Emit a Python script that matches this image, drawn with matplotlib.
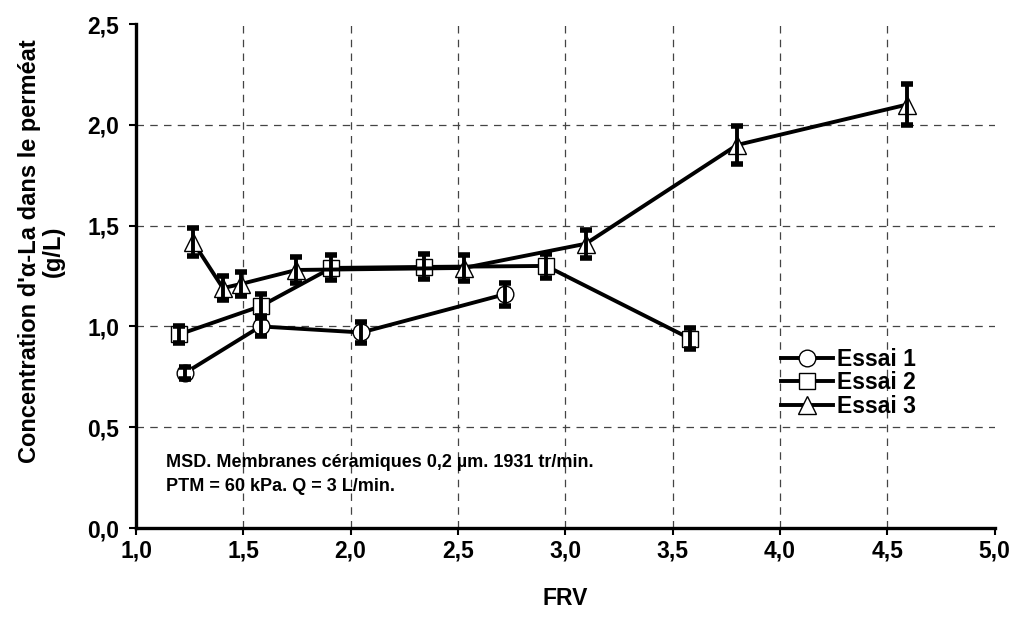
import matplotlib
matplotlib.use("Agg")
import matplotlib.pyplot as plt
from matplotlib.ticker import FuncFormatter

plt.rcParams['font.family'] = ['Liberation Sans', 'DejaVu Sans']
plt.rcParams['font.weight'] = 'bold'

# Essai 1
frv_1 = [1.23, 1.58, 2.05, 2.72]
conc_1 = [0.77, 1.00, 0.97, 1.16]
err_1 = [0.03, 0.05, 0.05, 0.057]

# Essai 2
frv_2 = [1.20, 1.58, 1.91, 2.34, 2.91, 3.58]
conc_2 = [0.96, 1.10, 1.29, 1.295, 1.30, 0.94]
err_2 = [0.043, 0.06, 0.062, 0.062, 0.06, 0.05]

# Essai 3
frv_3 = [1.265, 1.405, 1.487, 1.747, 2.527, 3.095, 3.80, 4.59]
conc_3 = [1.42, 1.19, 1.21, 1.28, 1.29, 1.41, 1.90, 2.10]
err_3 = [0.07, 0.06, 0.06, 0.064, 0.065, 0.07, 0.093, 0.10]

series = [
    ("Essai 1", frv_1, conc_1, err_1, "o", 12),
    ("Essai 2", frv_2, conc_2, err_2, "s", 11.5),
    ("Essai 3", frv_3, conc_3, err_3, "^", 12.5),
]

x_ticks = [1.0, 1.5, 2.0, 2.5, 3.0, 3.5, 4.0, 4.5, 5.0]
y_ticks = [0.0, 0.5, 1.0, 1.5, 2.0, 2.5]

fig = plt.figure(figsize=(10.15, 6.17), dpi=100)
ax = fig.add_axes([0.134, 0.1442, 0.846, 0.8169])

ax.set_xlim(1.0, 5.0)
ax.set_ylim(0.0, 2.5)

# interior dashed grid
for xv in x_ticks[1:-1]:
    ax.axvline(xv, color="#444444", lw=0.9, ls=(0, (6, 5)), zorder=0)
for yv in y_ticks[1:-1]:
    ax.axhline(yv, color="#444444", lw=0.9, ls=(0, (6, 5)), zorder=0)

for label, x, y, e, m, ms in series:
    ax.plot(x, y, color="black", lw=2.8, marker=m, markersize=ms,
            markerfacecolor="white", markeredgecolor="black",
            markeredgewidth=1.0, label=label, zorder=3)
    ax.errorbar(x, y, yerr=e, fmt="none", ecolor="black", elinewidth=2.8,
                capsize=4.5, capthick=4.0, zorder=4)

for side in ("top", "right"):
    ax.spines[side].set_visible(False)
for side in ("left", "bottom"):
    ax.spines[side].set_linewidth(2.4)

ax.set_xticks(x_ticks)
ax.set_yticks(y_ticks)
fmt = FuncFormatter(lambda v, p: f"{v:.1f}".replace(".", ","))
ax.xaxis.set_major_formatter(fmt)
ax.yaxis.set_major_formatter(fmt)
ax.tick_params(axis="both", direction="out", length=5, width=1.5,
               labelsize=16.5)
ax.tick_params(axis="x", pad=3)
ax.tick_params(axis="y", pad=7)
for lab in ax.get_xticklabels() + ax.get_yticklabels():
    lab.set_fontweight("bold")

ax.set_xlabel("FRV", fontsize=16.5, fontweight="bold", labelpad=18)
ax.set_ylabel("Concentration d'α-La dans le perméat\n(g/L)", fontsize=17,
              fontweight="bold", linespacing=1.05)
ax.yaxis.set_label_coords(-0.083, 0.55)

ax.text(0.035, 0.146, "MSD. Membranes céramiques 0,2 µm. 1931 tr/min.\nPTM = 60 kPa. Q = 3 L/min.",
        transform=ax.transAxes, fontsize=13, fontweight="bold",
        va="top", ha="left", linespacing=1.5)

leg = ax.legend(loc="upper left", bbox_to_anchor=(0.74, 0.376), frameon=False,
                fontsize=16.5, handlelength=2.3, handletextpad=0.15,
                labelspacing=0.03, borderaxespad=0.0)
for t in leg.get_texts():
    t.set_fontweight("bold")

fig.savefig("out.png", dpi=100, facecolor="white")
